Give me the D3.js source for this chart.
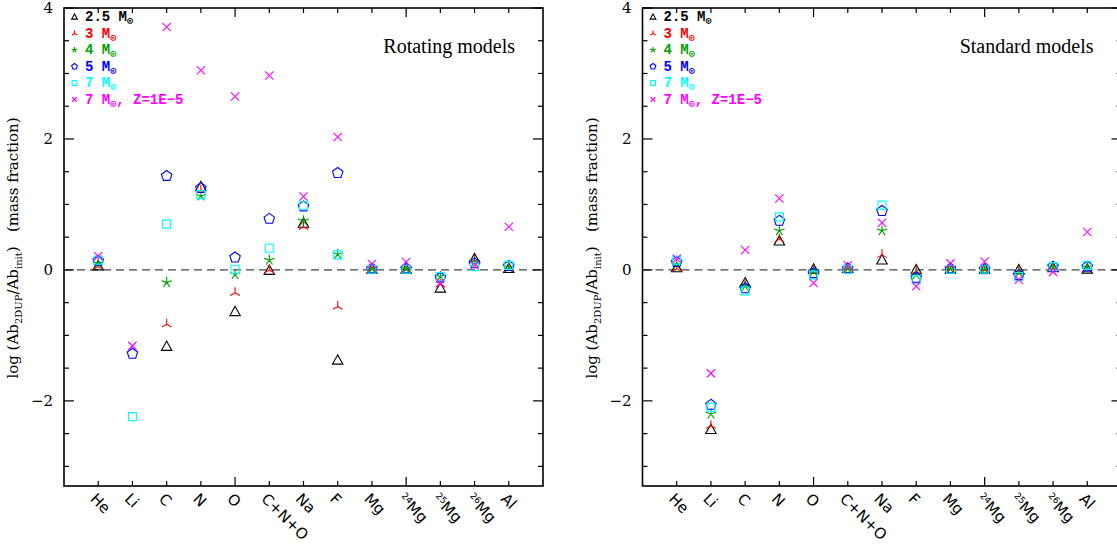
<!DOCTYPE html>
<html>
<head>
<meta charset="utf-8">
<script src="https://cdn.jsdelivr.net/npm/d3@7"></script>
<style>
  body { margin: 0; background: #fff; }
  svg { display: block; }
</style>
</head>
<body>
<svg id="chart" width="1117" height="545"></svg>
<script>
// ---------------- data ----------------
const elements = ["He", "Li", "C", "N", "O", "C+N+O", "Na", "F", "Mg", "24Mg", "25Mg", "26Mg", "Al"];

const modelNames = ["2.5", "3", "4", "5", "7", "7z"];
const modelColors = ["#000000", "#ff0000", "#00a000", "#0000ff", "#00ffff", "#ff00ff"];
const modelShapes = ["triangle", "tri", "star", "pentagon", "square", "cross"];

// rotating models
const rotM25 = [0.06, null, -1.17, 1.27, -0.64, -0.01, 0.71, -1.38, 0.01, 0.01, -0.28, 0.17, 0.02];
const rotM3  = [0.05, null, -0.83, 1.22, -0.35, 0.00, 0.66, -0.56, 0.01, 0.01, -0.22, 0.15, 0.01];
const rotM4  = [0.10, null, -0.19, 1.13, -0.07, 0.15, 0.75, 0.24, 0.02, 0.02, -0.10, 0.12, 0.04];
const rotM5  = [0.14, -1.28, 1.435, 1.25, 0.19, 0.78, 0.97, 1.48, 0.02, 0.02, -0.12, 0.10, 0.06];
const rotM7  = [0.15, -2.24, 0.70, 1.15, 0.01, 0.33, 0.98, 0.23, 0.01, 0.01, -0.10, 0.05, 0.07];
const rotM7z = [0.21, -1.16, 3.71, 3.05, 2.65, 2.97, 1.12, 2.03, 0.09, 0.12, -0.20, 0.07, 0.66];

// standard models
const stdM25 = [0.03, -2.44, -0.20, 0.44, 0.01, 0.02, 0.15, 0.00, 0.01, 0.01, 0.00, 0.03, 0.01];
const stdM3  = [0.02, -2.38, -0.22, 0.47, 0.00, 0.02, 0.23, -0.02, 0.01, 0.01, -0.02, 0.03, 0.01];
const stdM4  = [0.08, -2.20, -0.25, 0.60, -0.02, 0.02, 0.60, -0.07, 0.02, 0.01, -0.04, 0.04, 0.04];
const stdM5  = [0.12, -2.06, -0.28, 0.75, -0.05, 0.02, 0.90, -0.12, 0.02, 0.01, -0.08, 0.05, 0.05];
const stdM7  = [0.15, -2.10, -0.32, 0.81, -0.08, 0.01, 0.99, -0.15, 0.01, 0.01, -0.10, 0.05, 0.07];
const stdM7z = [0.17, -1.58, 0.305, 1.09, -0.20, 0.07, 0.72, -0.25, 0.10, 0.13, -0.15, -0.03, 0.58];

const yTickValues = [-2, 0, 2, 4];

// ---------------- layout ----------------
const svg = d3.select("#chart");
const panelTop = 8, panelBottom = 486, panelWidth = 479;
const monoFont = "'Liberation Mono', 'DejaVu Sans Mono', monospace";
const serifFont = "'Liberation Serif', 'DejaVu Serif', serif";

//-----------------------------------
function symbolPath(shape, s) {
	// s = half size
	let p = d3.path(), i, a;
	if (shape === "triangle") {
		p.moveTo(0, -s); p.lineTo(s * 0.95, s * 0.7); p.lineTo(-s * 0.95, s * 0.7); p.closePath();
	} else if (shape === "pentagon") {
		for (i = 0; i < 5; i++) {
			a = -Math.PI / 2 + i * 2 * Math.PI / 5;
			if (i === 0) p.moveTo(s * Math.cos(a), s * Math.sin(a));
			else p.lineTo(s * Math.cos(a), s * Math.sin(a));
		}
		p.closePath();
	} else if (shape === "square") {
		p.rect(-s * 0.8, -s * 0.8, s * 1.6, s * 1.6);
	} else if (shape === "cross") {
		p.moveTo(-s * 0.75, -s * 0.75); p.lineTo(s * 0.75, s * 0.75);
		p.moveTo(s * 0.75, -s * 0.75); p.lineTo(-s * 0.75, s * 0.75);
	} else if (shape === "tri") {
		[-90, 30, 150].forEach(function (deg) {
			a = deg * Math.PI / 180;
			p.moveTo(0, 0); p.lineTo(s * Math.cos(a), s * Math.sin(a));
		});
	} else if (shape === "star") {
		for (i = 0; i < 5; i++) {
			a = -Math.PI / 2 + i * 2 * Math.PI / 5;
			p.moveTo(0, 0); p.lineTo(s * Math.cos(a), s * Math.sin(a));
		}
	}
	return p.toString();
}

//-----------------------------------
function drawPanel(left, title, series) {
	const x = d3.scaleLinear().domain([0, 14]).range([left, left + panelWidth]);
	const y = d3.scaleLinear().domain([-3.3, 4]).range([panelBottom, panelTop]);
	const g = svg.append("g");

	// zero line
	g.append("line")
		.attr("x1", x(0)).attr("x2", x(14))
		.attr("y1", y(0)).attr("y2", y(0))
		.attr("stroke", "#444").attr("stroke-width", 1.4)
		.attr("stroke-dasharray", "8,5");

	// ticks on all sides (inward)
	const tk = g.append("g").attr("stroke", "#000").attr("stroke-width", 1.2);
	d3.range(1, 14).forEach(function (v) {
		let len = (v % 5 === 0) ? 9 : 5;
		tk.append("line").attr("x1", x(v)).attr("x2", x(v)).attr("y1", panelBottom).attr("y2", panelBottom - len);
		tk.append("line").attr("x1", x(v)).attr("x2", x(v)).attr("y1", panelTop).attr("y2", panelTop + len);
	});
	d3.range(-3, 4.01, 0.5).forEach(function (v) {
		let len = (Math.abs(v % 2) < 1e-6) ? 10 : 5;
		tk.append("line").attr("x1", x(0)).attr("x2", x(0) + len).attr("y1", y(v)).attr("y2", y(v));
		tk.append("line").attr("x1", x(14)).attr("x2", x(14) - len).attr("y1", y(v)).attr("y2", y(v));
	});

	// frame
	g.append("rect")
		.attr("x", x(0)).attr("y", panelTop)
		.attr("width", panelWidth).attr("height", panelBottom - panelTop)
		.attr("fill", "none").attr("stroke", "#000").attr("stroke-width", 1.6);

	// y tick labels
	g.selectAll(".ylab").data(yTickValues).enter().append("text")
		.attr("x", x(0) - 11).attr("y", function (d) { return y(d); })
		.attr("dy", "0.36em").attr("text-anchor", "end")
		.attr("font-family", "'DejaVu Serif', serif").attr("font-size", 15)
		.text(function (d) { return d < 0 ? "\u2212" + Math.abs(d) : d; });

	// y axis title
	const yt = g.append("text")
		.attr("transform", "translate(" + (x(0) - 46) + "," + 248 + ") rotate(-90)")
		.attr("text-anchor", "middle")
		.attr("font-family", "'DejaVu Serif', serif").attr("font-size", 15);
	yt.append("tspan").text("log (Ab");
	yt.append("tspan").attr("font-size", 10).attr("baseline-shift", "-4").text("2DUP");
	yt.append("tspan").text("/Ab");
	yt.append("tspan").attr("font-size", 10).attr("baseline-shift", "-4").text("init");
	yt.append("tspan").text(")\u00a0\u00a0\u00a0(mass fraction)");

	// x tick labels
	elements.forEach(function (el, i) {
		const t = g.append("text")
			.attr("transform", "translate(" + (x(i + 1) - 5) + "," + (panelBottom + 10) + ") rotate(45)")
			.attr("dy", "0.35em")
			.attr("font-family", "'DejaVu Sans', sans-serif").attr("font-size", 15);
		const m = el.match(/^(\d+)(.*)$/);
		if (m) {
			t.append("tspan").attr("font-size", 9).attr("baseline-shift", "5").text(m[1]);
			t.append("tspan").text(m[2]);
		} else
			t.text(el);
	});

	// title
	g.append("text")
		.attr("x", x(14) - 28).attr("y", 53)
		.attr("text-anchor", "end")
		.attr("font-family", serifFont).attr("font-size", 20)
		.text(title);

	// points
	series.forEach(function (vals, k) {
		g.append("g").selectAll("path")
			.data(vals.map(function (v, i) { return { i: i, v: v }; }).filter(function (d) { return d.v !== null; }))
			.enter().append("path")
			.attr("transform", function (d) { return "translate(" + x(d.i + 1) + "," + y(d.v) + ")"; })
			.attr("d", symbolPath(modelShapes[k], modelShapes[k] === "square" ? 5 : 5.5))
			.attr("fill", "none").attr("stroke", modelColors[k]).attr("stroke-width", 1.1);
	});

	// legend
	const lg = g.append("g").attr("font-family", monoFont).attr("font-weight", "bold").attr("font-size", 14);
	modelNames.forEach(function (name, k) {
		const yy = 21 + k * 16.5;
		lg.append("path")
			.attr("transform", "translate(" + (x(0) + 10.5) + "," + (yy - 4) + ")")
			.attr("d", symbolPath(modelShapes[k], 3))
			.attr("fill", "none").attr("stroke", modelColors[k]).attr("stroke-width", 1.1);
		const t = lg.append("text").attr("x", x(0) + 21).attr("y", yy).attr("fill", modelColors[k]);
		t.append("tspan").text((name === "7z" ? "7" : name) + " M");
		t.append("tspan").attr("font-size", 10).attr("baseline-shift", "-3").text("\u2299");
		if (name === "7z")
			t.append("tspan").attr("baseline-shift", "0").text(", Z=1E\u22125");
	});
}

drawPanel(64, "Rotating models", [rotM25, rotM3, rotM4, rotM5, rotM7, rotM7z]);
drawPanel(642.5, "Standard models", [stdM25, stdM3, stdM4, stdM5, stdM7, stdM7z]);
</script>
</body>
</html>
